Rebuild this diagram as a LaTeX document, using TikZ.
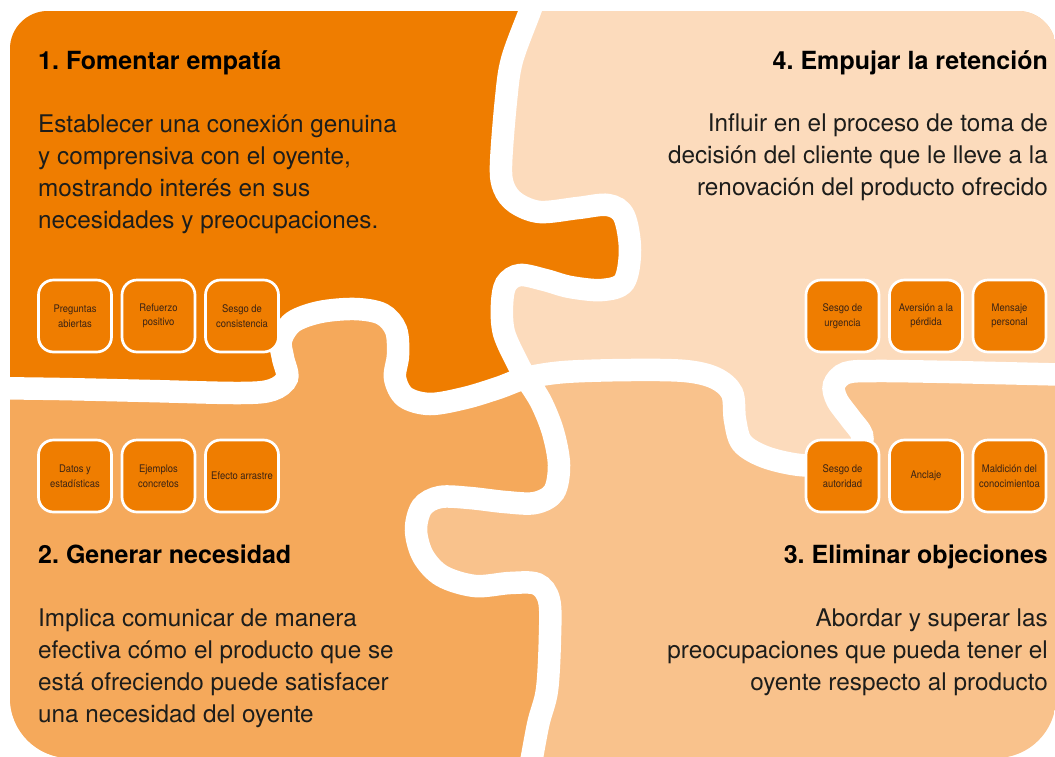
\documentclass[tikz,border=0pt]{standalone}
\usepackage{fontspec}
\setmainfont{TeX Gyre Heros}
\newfontfamily\tagfont[FakeStretch=0.9]{TeX Gyre Heros}
\usetikzlibrary{positioning}
\frenchspacing
\definecolor{pzone}{HTML}{EF7D00}
\definecolor{pztwo}{HTML}{F5A95B}
\definecolor{pzthree}{HTML}{F9C28C}
\definecolor{pzfour}{HTML}{FCDBBC}
\definecolor{tagtext}{HTML}{3B2314}
\definecolor{bodytext}{HTML}{1D1D1B}

% the two white cuts of the puzzle, in pixel coordinates
\newcommand{\vcutto}{-- plot[smooth,tension=0.55] coordinates {(541,-20) (530,11) (512,60) (506,100) (501,165) (504,188) (516,203) (540,212) (578,208) (608,205) (624,216) (630,250) (624,282) (602,290) (570,287) (545,280) (520,275) (506,284) (502,305) (504,333) (518,364) (526,378) (541,402) (553,432) (559,465) (554,492) (535,503) (505,502) (470,498) (440,497) (422,507) (416,530) (423,556) (442,576) (475,586) (510,583) (537,584) (549,600) (550,635) (547,690) (538,725) (528,780)}}
\newcommand{\hcutto}{-- plot[smooth,tension=0.55] coordinates {(-20,388) (60,389) (150,391) (240,393) (272,390) (287,378) (283,358) (281,340) (293,322) (320,312) (355,309) (382,314) (396,330) (398,355) (395,378) (405,397) (430,404) (465,398) (498,388) (526,378) (565,372) (630,370) (685,371) (715,378) (732,393) (735,420) (742,443) (765,457) (800,465) (835,464) (858,450) (862,435) (850,418) (837,400) (834,385) (846,373) (875,371) (950,372) (1080,375)}}

\begin{document}
\begin{tikzpicture}[
x=1pt,y=-1pt,
node distance=7.8pt,
cut/.style={draw=white,line width=22.5pt},
tag/.style={draw=white,line width=2.7pt,fill=pzone,rounded corners=15pt,minimum width=73pt,minimum height=72pt,inner sep=1pt,align=center,text=tagtext,font=\tagfont\fontsize{10.5}{14.5}\selectfont},
head/.style={inner sep=0pt,font=\bfseries\fontsize{25}{29}\selectfont},
body/.style={inner sep=0pt,text=bodytext,font=\fontsize{24.3}{32}\selectfont}
]
\useasboundingbox (0,0) rectangle (1055,756);

% pieces
\begin{scope}
\clip[rounded corners=38pt] (10,11) rectangle (1056,420) [rounded corners=60pt] (10,300) rectangle (1056,758);
\fill[pzthree] (0,0) rectangle (1060,760);
\begin{scope}
\clip (-30,-20) \vcutto -- (-30,780) -- cycle;
\fill[pzone] (-20,-30) \hcutto -- (1080,-30) -- cycle;
\fill[pztwo] (-20,790) \hcutto -- (1080,790) -- cycle;
\end{scope}
\begin{scope}
\clip (1080,-20) \vcutto -- (1080,780) -- cycle;
\fill[pzfour] (-20,-30) \hcutto -- (1080,-30) -- cycle;
\end{scope}
\end{scope}
\draw[cut] (541,-20) \vcutto;
\draw[cut] (-20,388) \hcutto;

% tags
\node[tag] (pa) at (75,316) {Preguntas\\abiertas};
\node[tag,right=of pa] (pb) {Refuerzo\\positivo};
\node[tag,right=of pb] (pc) {Sesgo de\\consistencia};
\node[tag] (ua) at (842.5,316) {Sesgo de\\urgencia};
\node[tag,right=of ua] (ub) {Aversión a la\\pérdida};
\node[tag,right=of ub] (uc) {Mensaje\\personal};
\node[tag] (da) at (75,476) {Datos y\\estadísticas};
\node[tag,right=of da] (db) {Ejemplos\\concretos};
\node[tag,right=of db] (dc) {Efecto arrastre};
\node[tag] (aa) at (842.5,476) {Sesgo de\\autoridad};
\node[tag,right=of aa] (ab) {Anclaje};
\node[tag,right=of ab] (ac) {Maldición del\\conocimientoa};

% titles and texts (base = last line)
\node[head,anchor=base west] (h1) at (38,69) {1. Fomentar empatía};
\node[body,anchor=base west,align=left] (b1) at (38,228) {Establecer una conexión genuina\\y comprensiva con el oyente,\\mostrando interés en sus\\necesidades y preocupaciones.};
\node[head,anchor=base east] (h4) at (1048,69) {4. Empujar la retención};
\node[body,anchor=base east,align=right] (b4) at (1048,195) {Influir en el proceso de toma de\\decisión del cliente que le lleve a la\\renovación del producto ofrecido};
\node[head,anchor=base west] (h2) at (38,563) {2. Generar necesidad};
\node[body,anchor=base west,align=left] (b2) at (38,722) {Implica comunicar de manera\\efectiva cómo el producto que se\\está ofreciendo puede satisfacer\\una necesidad del oyente};
\node[head,anchor=base east] (h3) at (1048,563) {3. Eliminar objeciones};
\node[body,anchor=base east,align=right] (b3) at (1048,690) {Abordar y superar las\\preocupaciones que pueda tener el\\oyente respecto al producto};
\end{tikzpicture}
\end{document}
